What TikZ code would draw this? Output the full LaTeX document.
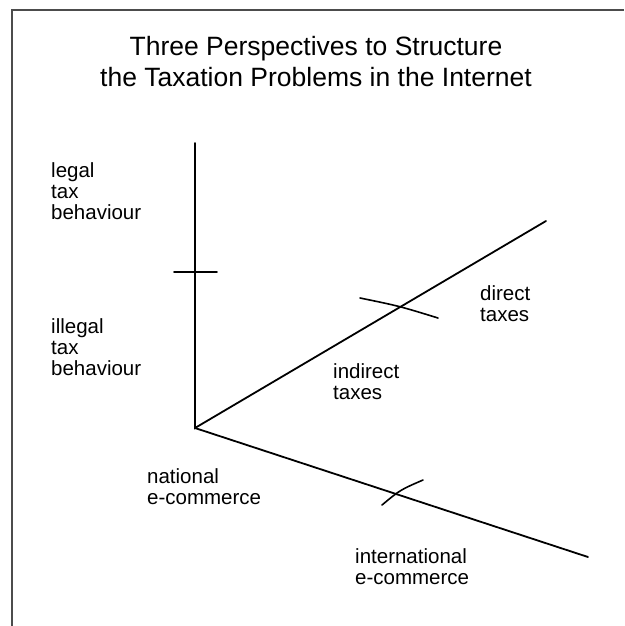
\documentclass[tikz,border=0pt]{standalone}
\usepackage{fontspec}
\setmainfont{Liberation Sans}
\usepackage{tikz}
\usetikzlibrary{positioning}

\begin{document}
\begin{tikzpicture}[
    x=1pt, y=-1pt,
    axis/.style={line width=1.8pt, line cap=round, black},
    tick/.style={line width=1.6pt, line cap=round, black},
    lbl/.style={anchor=north west, inner sep=0pt, align=left,
                font=\fontsize{20.5}{21}\selectfont},
    frame/.style={line width=1.3pt, black!70}
]
\useasboundingbox (0,0) rectangle (624,626);
\draw[frame] (12,626) -- (12,10) -- (624,10);

\node[anchor=north, inner sep=0pt, align=center,
      font=\fontsize{26.5}{31}\selectfont] (title) at (316,36)
  {Three Perspectives to Structure\\the Taxation Problems in the Internet};

% axes
\coordinate (o)    at (195,428);
\coordinate (vtop) at (195,143);
\coordinate (dend) at (546,221);
\coordinate (iend) at (588,557);
\draw[axis] (vtop) -- (o) -- (dend);
\draw[axis] (o) -- (iend);

% dividing marks
\coordinate (v1) at (174,272); \coordinate (v2) at (217,272);
\coordinate (d1) at (360,298); \coordinate (d2) at (438,318);
\coordinate (i1) at (382,505); \coordinate (i2) at (423,480);
\draw[tick] (v1) -- (v2);
\draw[tick] (d1) .. controls (399,306) .. (d2);
\draw[tick] (i1) .. controls (400,490) .. (i2);

\node[lbl] (legal)   at (51,162)  {legal\\tax\\behaviour};
\node[lbl] (illegal) at (51,318)  {illegal\\tax\\behaviour};
\node[lbl] (natl)    at (147,468) {national\\e-commerce};
\node[lbl] (indir)   at (333,363) {indirect\\taxes};
\node[lbl] (dir)     at (480,285) {direct\\taxes};
\node[lbl] (intl)    at (355,548) {international\\e-commerce};
\end{tikzpicture}
\end{document}
